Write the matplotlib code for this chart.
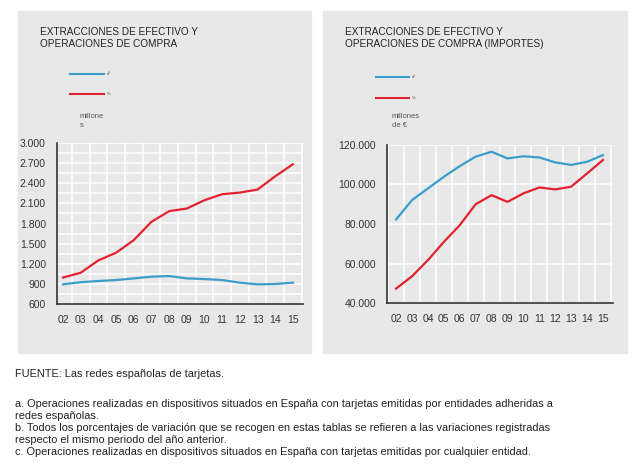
import matplotlib
matplotlib.use('Agg')
import matplotlib.pyplot as plt
from matplotlib.patches import Rectangle
from matplotlib.ticker import FuncFormatter, MultipleLocator

plt.rcParams['font.family'] = ['Liberation Sans', 'DejaVu Sans']

# ── Data ─────────────────────────────────────────────────────────────────────
years = list(range(2, 16))
year_labels = [f'{y:02d}' for y in years]

# left: number of operations (millions)
ops_cash = [893, 925, 943, 957, 982, 1007, 1017, 982, 972, 957, 918, 893, 898, 918]
ops_purchase = [995, 1066, 1250, 1364, 1552, 1825, 1984, 2023, 2147, 2237, 2261, 2306, 2504, 2683]

# right: amounts (millions of euros)
amt_cash = [82300, 92100, 98000, 103900, 109300, 114100, 116600, 113200, 114300, 113700,
            111200, 109900, 111500, 114900]
amt_purchase = [47300, 53500, 61700, 70900, 79400, 90000, 94600, 91200, 95500, 98500,
                97500, 98900, 105600, 112400]

BLUE = '#3c9dcb'
RED = '#e3222e'
PANEL = '#e8e8e8'
TXT = '#333333'

W, H = 636, 470
fig = plt.figure(figsize=(W / 100, H / 100), dpi=100)


def fx(px):
    return px / W


def fy(py):
    return 1 - py / H


def thousands(v, pos):
    return f'{int(v):,}'.replace(',', '.')


# grey panels
for x0, x1 in [(18, 311), (323, 627)]:
    fig.patches.append(Rectangle((fx(x0), fy(353)), fx(x1) - fx(x0), fy(11) - fy(353),
                                 transform=fig.transFigure, color=PANEL, zorder=-5))


def panel(box, xlim, ylim, ystep, ygrid, blue, red):
    x0, y0, x1, y1 = box
    ax = fig.add_axes([fx(x0), fy(y1), fx(x1) - fx(x0), fy(y0) - fy(y1)])
    ax.set_zorder(2)
    ax.set_facecolor(PANEL)
    ax.plot(years, blue, color=BLUE, lw=1.6, zorder=3)
    ax.plot(years, red, color=RED, lw=1.6, zorder=3)
    ax.set_xlim(*xlim)
    ax.set_ylim(*ylim)
    ax.set_xticks(years)
    ax.set_xticklabels(year_labels)
    ax.yaxis.set_major_locator(MultipleLocator(ystep))
    ax.yaxis.set_minor_locator(MultipleLocator(ygrid))
    ax.xaxis.set_minor_locator(MultipleLocator(1, offset=0.5))
    ax.yaxis.set_major_formatter(FuncFormatter(thousands))
    ax.grid(True, which='minor', color='white', lw=1.1)
    ax.grid(True, which='major', axis='y', color='white', lw=1.1)
    ax.set_axisbelow(True)
    for s in ['top', 'right']:
        ax.spines[s].set_visible(False)
    for s in ['left', 'bottom']:
        ax.spines[s].set_color(TXT)
        ax.spines[s].set_linewidth(1.2)
    ax.tick_params(which='both', length=0, labelsize=7.5, colors=TXT, pad=8)
    ax.tick_params(axis='x', pad=8)
    return ax


panel((57, 143, 303, 304), (1.66, 15.57), (600, 3000), 300, 150, ops_cash, ops_purchase)
panel((387, 145, 613, 303), (1.43, 15.63), (40000, 120000), 20000, 20000, amt_cash, amt_purchase)

# titles
fig.text(fx(40), fy(27), 'EXTRACCIONES DE EFECTIVO Y\nOPERACIONES DE COMPRA',
         fontsize=7.2, color='#222222', va='top', ha='left', linespacing=1.3)
fig.text(fx(345), fy(27), 'EXTRACCIONES DE EFECTIVO Y\nOPERACIONES DE COMPRA (IMPORTES)',
         fontsize=7.2, color='#222222', va='top', ha='left', linespacing=1.3)

# legend swatches (labels are tiny in the original)
for (lx0, lx1, yb, yr) in [(70, 104, 74, 94), (376, 409, 77, 98)]:
    fig.add_artist(plt.Line2D([fx(lx0), fx(lx1)], [fy(yb), fy(yb)], color=BLUE, lw=1.5))
    fig.add_artist(plt.Line2D([fx(lx0), fx(lx1)], [fy(yr), fy(yr)], color=RED, lw=1.5))
    fig.text(fx(lx1 + 3), fy(yb), 'nº', fontsize=3, color=TXT, va='center')
    fig.text(fx(lx1 + 3), fy(yr), '%', fontsize=3, color=TXT, va='center')

# units
fig.text(fx(80), fy(113), 'millone\ns', fontsize=5.5, color='#555555', va='top', linespacing=1.4)
fig.text(fx(392), fy(113), 'millones\nde €', fontsize=5.5, color='#555555', va='top', linespacing=1.4)

# footnotes
notes = [
    (374, 'FUENTE: Las redes españolas de tarjetas.'),
    (404, 'a. Operaciones realizadas en dispositivos situados en España con tarjetas emitidas por entidades adheridas a'),
    (416, 'redes españolas.'),
    (428, 'b. Todos los porcentajes de variación que se recogen en estas tablas se refieren a las variaciones registradas'),
    (440, 'respecto el mismo periodo del año anterior.'),
    (452, 'c. Operaciones realizadas en dispositivos situados en España con tarjetas emitidas por cualquier entidad.'),
]
for y, s in notes:
    fig.text(fx(15), fy(y), s, fontsize=7.9, color='#222222', va='center', ha='left')

fig.savefig('out.png', dpi=100)
